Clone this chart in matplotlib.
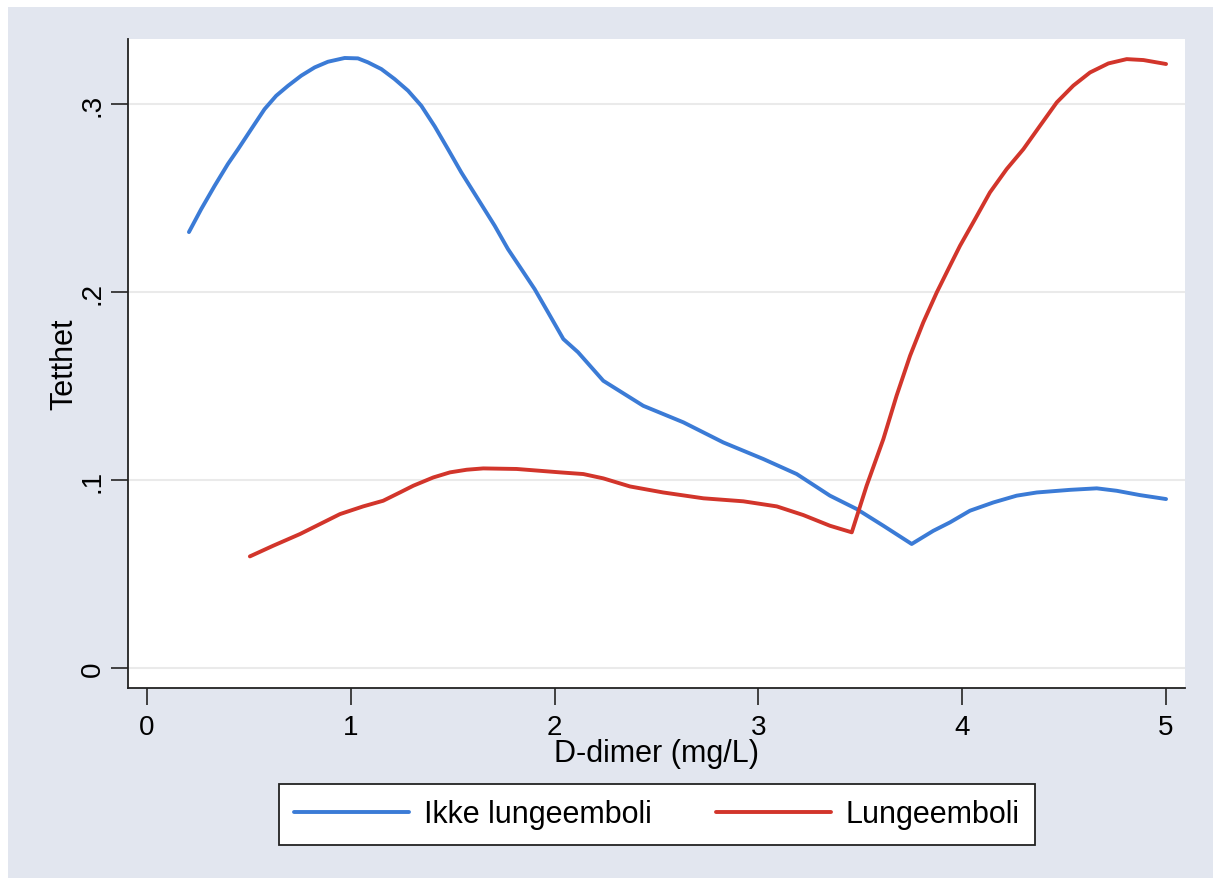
import matplotlib
matplotlib.use('Agg')
import matplotlib.pyplot as plt
from matplotlib.patches import Rectangle

# density estimates by group, read as (D-dimer, density) pairs
ikke_x = [0.206, 0.266, 0.332, 0.397, 0.447, 0.512, 0.577, 0.634, 0.692, 0.757,
          0.823, 0.888, 0.970, 1.035, 1.084, 1.150, 1.215, 1.281, 1.346, 1.412,
          1.477, 1.542, 1.624, 1.706, 1.771, 1.837, 1.902, 1.968, 2.043, 2.115,
          2.239, 2.435, 2.632, 2.828, 3.024, 3.188, 3.351, 3.482, 3.613, 3.752,
          3.858, 3.94, 4.038, 4.153, 4.267, 4.366, 4.529, 4.66, 4.758, 4.872, 5.0]
ikke_y = [0.2319, 0.2441, 0.2565, 0.2681, 0.2760, 0.2867, 0.2973, 0.3044, 0.3097, 0.3151,
          0.3195, 0.3225, 0.3245, 0.3243, 0.3222, 0.3186, 0.3133, 0.3071, 0.2991, 0.2881,
          0.2760, 0.2637, 0.2495, 0.2353, 0.2229, 0.2122, 0.2016, 0.1892, 0.1750, 0.1680,
          0.1528, 0.1395, 0.1307, 0.1200, 0.1112, 0.1032, 0.0917, 0.0846, 0.0757, 0.0660,
          0.0730, 0.0775, 0.0837, 0.0881, 0.0917, 0.0934, 0.0948, 0.0956, 0.0943, 0.0920, 0.0899]

lunge_x = [0.505, 0.620, 0.751, 0.849, 0.947, 1.061, 1.159, 1.241, 1.307, 1.405,
           1.487, 1.569, 1.65, 1.814, 2.026, 2.141, 2.239, 2.370, 2.533, 2.730,
           2.926, 3.09, 3.22, 3.351, 3.458, 3.531, 3.613, 3.678, 3.744, 3.809,
           3.875, 3.940, 3.989, 4.063, 4.136, 4.218, 4.30, 4.382, 4.464, 4.545,
           4.627, 4.717, 4.807, 4.889, 5.0]
lunge_y = [0.0594, 0.0651, 0.0713, 0.0766, 0.0819, 0.0860, 0.0890, 0.0934, 0.0970, 0.1014,
           0.1041, 0.1055, 0.1062, 0.1059, 0.1041, 0.1032, 0.1009, 0.0966, 0.0934, 0.0903,
           0.0887, 0.0860, 0.0814, 0.0757, 0.0722, 0.0970, 0.1218, 0.1449, 0.1661, 0.1839,
           0.1998, 0.2140, 0.2246, 0.2388, 0.2530, 0.2654, 0.2760, 0.2885, 0.3009, 0.3098,
           0.3168, 0.3216, 0.3239, 0.3234, 0.3213]

xticks = [0, 1, 2, 3, 4, 5]
yticks = [0, 0.1, 0.2, 0.3]
ytick_labels = ['0', '.1', '.2', '.3']

plt.rcParams['font.family'] = ['Liberation Sans', 'DejaVu Sans']
fs = 22
fs_tick = 20

W, H = 1213, 879
fig = plt.figure(figsize=(W / 100, H / 100), dpi=100, facecolor='white')
# graph region background (thin white strip left and top)
bg = Rectangle((8 / W, 0), 1, 1 - 8 / H, transform=fig.transFigure,
               facecolor='#e2e6ef', edgecolor='none', zorder=-10)
fig.add_artist(bg)

ax = fig.add_axes([128 / W, 1 - 689 / H, (1185 - 128) / W, (689 - 40) / H])
ax.set_facecolor('white')

ax.plot(ikke_x, ikke_y, color='#3b7bd6', lw=2.8, label='Ikke lungeemboli',
        solid_joinstyle='round', solid_capstyle='round')
ax.plot(lunge_x, lunge_y, color='#d2352b', lw=2.8, label='Lungeemboli',
        solid_joinstyle='round', solid_capstyle='round')

ax.set_xlim(-0.093, 5.093)
ax.set_ylim(-0.0106, 0.3346)
ax.set_xticks(xticks)
ax.set_yticks(yticks)
ax.set_yticklabels(ytick_labels, rotation=90, va='center')
ax.tick_params(axis='both', labelsize=fs_tick, length=12, width=1.3, direction='out', color='#333333')
ax.tick_params(axis='x', pad=7)
ax.tick_params(axis='y', pad=4)

ax.grid(axis='y', color='#eaeaea', lw=1.5)
ax.set_axisbelow(True)
for s in ['top', 'right']:
    ax.spines[s].set_visible(False)
for s in ['left', 'bottom']:
    ax.spines[s].set_linewidth(1.3)
    ax.spines[s].set_color('#222222')

ax.set_xlabel('D-dimer (mg/L)', fontsize=fs)
ax.xaxis.label.set_va('baseline')
ax.xaxis.set_label_coords(0.5, -0.1125)
ax.set_ylabel('Tetthet', fontsize=fs)
ax.yaxis.label.set_va('center')
ax.yaxis.set_label_coords(-0.0605, 0.5)

leg = fig.legend(loc='center', bbox_to_anchor=((277 + 1037) / 2 / W, 1 - 815.5 / H),
                 ncol=2, fontsize=fs, frameon=True, fancybox=False,
                 handlelength=3.75, handletextpad=0.5, columnspacing=2.1, borderpad=0.5)
leg.get_frame().set_edgecolor('#222222')
leg.get_frame().set_linewidth(1.3)
leg.get_frame().set_alpha(1)

fig.savefig('out.png', dpi=100, facecolor=fig.get_facecolor())
